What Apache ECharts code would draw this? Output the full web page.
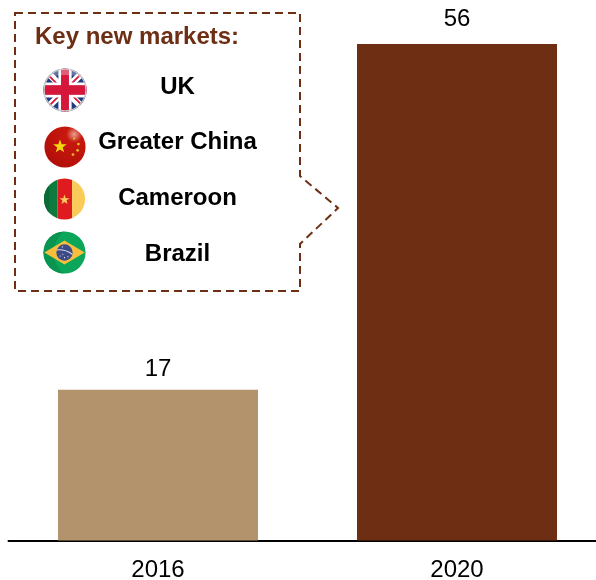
<!DOCTYPE html>
<html>
<head>
<meta charset="utf-8">
<style>html,body{margin:0;padding:0;background:#fff}#chart{width:596px;height:580px}</style>
<script src="https://cdn.jsdelivr.net/npm/echarts@6/dist/echarts.min.js"></script>
</head>
<body>
<div id="chart"></div>
<script>
const categories = ['2016', '2020'];
const marketCounts = [17, 56];
const barColors = ['#B2936B', '#6E2E14'];
const panelTitle = 'Key new markets:';
const markets = ['UK', 'Greater China', 'Cameroon', 'Brazil'];
const brown = '#6E2E14';
const font = '"Liberation Sans", Arial, sans-serif';
const labelGaps = [8, 13];

// Round flag badges, drawn on a 100x100 box and clipped to a circle.
function badge(body, defs) {
  const svg = '<svg xmlns="http://www.w3.org/2000/svg" width="100" height="100" viewBox="0 0 100 100">' +
    '<defs><clipPath id="c"><circle cx="50" cy="50" r="49"/></clipPath>' + (defs || '') + '</defs>' +
    '<g clip-path="url(#c)">' + body + '</g></svg>';
  return 'data:image/svg+xml;charset=utf-8,' + encodeURIComponent(svg);
}
const star = 'M0-10 2.4-3.2 9.5-3.1 3.8 1.2 5.9 8.1 0 4 -5.9 8.1 -3.8 1.2 -9.5-3.1 -2.4-3.2Z';

const flagUK = badge(
  '<rect width="100" height="100" fill="#1F3A80"/>' +
  '<path d="M0 0 100 100M0 100 100 0" stroke="#fff" stroke-width="15"/>' +
  '<path d="M4 8 40 44M96 92 60 56M92 8 60 40M8 92 40 60" stroke="#D5173C" stroke-width="4"/>' +
  '<rect x="35" width="30" height="100" fill="#fff"/><rect y="33" width="100" height="34" fill="#fff"/>' +
  '<rect x="41" width="18" height="100" fill="#D5173C"/><rect y="39" width="100" height="22" fill="#D5173C"/>' +
  '<path d="M0 0H100V26Q50 6 0 26Z" fill="#fff" opacity=".3"/>' +
  '<circle cx="50" cy="50" r="47.5" fill="none" stroke="#c8c8c8" stroke-width="3"/>');

const flagChina = badge(
  '<rect width="100" height="100" fill="url(#r)"/>' +
  '<path transform="translate(38 49) scale(1.7)" d="' + star + '" fill="#F2D60F"/>' +
  '<g fill="#E2BE2A"><circle cx="72" cy="30" r="2.6"/><circle cx="82" cy="43" r="3.2"/><circle cx="80" cy="58" r="3.2"/><circle cx="69" cy="68" r="3.2"/></g>',
  '<radialGradient id="r" cx=".72" cy=".2" r=".95"><stop offset="0" stop-color="#E9A090"/><stop offset=".2" stop-color="#C8180E"/><stop offset="1" stop-color="#AE0E08"/></radialGradient>');

const flagCameroon = badge(
  '<rect width="33" height="100" fill="#0F7A3E"/><path d="M0 0H14V100H0Z" fill="#0A6A35"/>' +
  '<rect x="33" width="35" height="100" fill="#E01B1F"/>' +
  '<rect x="68" width="32" height="100" fill="#FBCB5A"/>' +
  '<path transform="translate(50 52) scale(1.25)" d="' + star + '" fill="#FBCB5A"/>');

const flagBrazil = badge(
  '<rect width="100" height="100" fill="#0BA65A"/>' +
  '<path d="M50 0A50 50 0 0 0 50 100A62 62 0 0 1 50 0Z" fill="#099450"/>' +
  '<path d="M50 22 97 50 50 78 3 50Z" fill="#F8BE3C"/>' +
  '<circle cx="50" cy="50" r="19" fill="#3D4A88"/>' +
  '<path d="M32 44Q52 42 68 54" stroke="#D8DAE8" stroke-width="2.5" fill="none"/>' +
  '<g fill="#fff"><circle cx="40" cy="58" r="1.3"/><circle cx="50" cy="62" r="1.3"/><circle cx="58" cy="60" r="1.3"/><circle cx="46" cy="54" r="1.3"/><circle cx="45" cy="37" r="1.3"/></g>');

const flagImages = [
  { image: flagUK, cx: 65, cy: 90, r: 22 },
  { image: flagChina, cx: 65, cy: 147, r: 21 },
  { image: flagCameroon, cx: 64.5, cy: 199, r: 21 },
  { image: flagBrazil, cx: 64.5, cy: 252.5, r: 21.5 }
];
const marketRowY = [87, 142, 198, 254];

const chart = echarts.init(document.getElementById('chart'), null, { renderer: 'canvas' });

chart.setOption({
  animation: false,
  backgroundColor: '#fff',
  // The plot runs past the right edge, so the axis line is cut off by the canvas.
  grid: { left: 8.5, right: -10.5, top: 44, bottom: 39.5, outerBoundsMode: 'none', containLabel: false },
  xAxis: {
    type: 'category',
    data: categories,
    axisTick: { show: false },
    axisLine: { lineStyle: { color: '#000', width: 2 } },
    axisLabel: { color: '#000', fontSize: 24, fontFamily: font, margin: 17.5 }
  },
  yAxis: { type: 'value', min: 0, max: 56, show: false },
  series: [{
    type: 'bar',
    barWidth: 200,
    data: marketCounts.map((v, i) => ({
      value: v,
      itemStyle: { color: barColors[i] },
      label: { distance: labelGaps[i] }
    })),
    label: { show: true, position: 'top', color: '#000', fontSize: 24, fontFamily: font }
  }],
  graphic: [
    {
      type: 'polygon',
      shape: { points: [[15, 13], [300, 13], [300, 176], [338, 208], [300, 244], [300, 291], [15, 291]] },
      style: { fill: 'none', stroke: brown, lineWidth: 2, lineDash: [8, 5] }
    },
    {
      type: 'text', x: 35, y: 37,
      style: { text: panelTitle, fill: brown, font: 'bold 24px ' + font, textVerticalAlign: 'middle' }
    },
    ...markets.map((name, i) => ({
      type: 'text', x: 177.5, y: marketRowY[i],
      style: { text: name, fill: '#000', font: 'bold 24px ' + font, textAlign: 'center', textVerticalAlign: 'middle' }
    })),
    ...flagImages.map(f => ({
      type: 'image',
      style: { image: f.image, x: f.cx - f.r, y: f.cy - f.r, width: 2 * f.r, height: 2 * f.r }
    }))
  ]
});
</script>
</body>
</html>
